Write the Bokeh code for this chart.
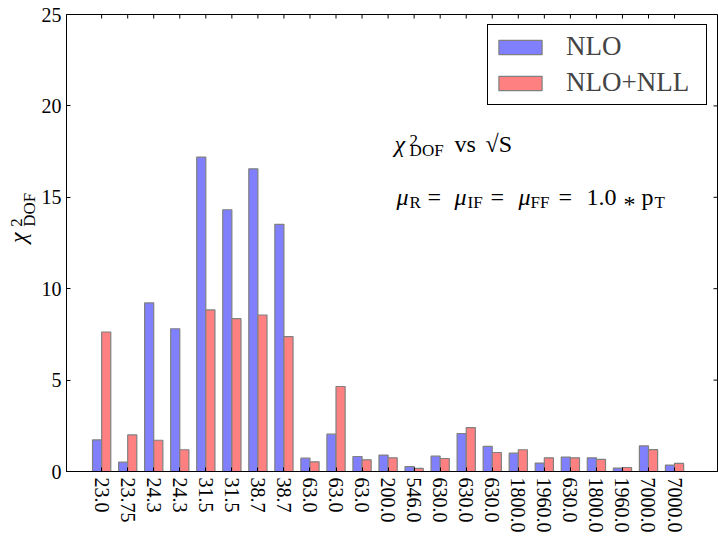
import math
import numpy as np
from bokeh.plotting import figure
from bokeh.layouts import row
from bokeh.models import Range1d, FixedTicker, Legend, LegendItem, Label, CustomJSTickFormatter
from bokeh.embed import file_html
from bokeh.resources import INLINE

# ---------------- data ----------------
energies = ["23.0", "23.75", "24.3", "24.3", "31.5", "31.5", "38.7", "38.7",
            "63.0", "63.0", "63.0", "200.0", "546.0", "630.0", "630.0", "630.0",
            "1800.0", "1960.0", "630.0", "1800.0", "1960.0", "7000.0", "7000.0"]
chi2_nlo = [1.73, 0.51, 9.22, 7.81, 17.20, 14.32, 16.56, 13.52, 0.73, 2.04, 0.82,
            0.90, 0.27, 0.84, 2.08, 1.37, 1.00, 0.46, 0.79, 0.75, 0.19, 1.40, 0.35]
chi2_nll = [7.63, 2.00, 1.71, 1.19, 8.84, 8.36, 8.56, 7.38, 0.53, 4.65, 0.64,
            0.75, 0.17, 0.71, 2.40, 1.04, 1.19, 0.75, 0.75, 0.66, 0.22, 1.20, 0.44]
y_ticks = [0, 5, 10, 15, 20, 25]
series_names = ["NLO", "NLO+NLL"]

FONT = "Liberation Serif"
BAR_W = 0.35
X_START, X_END = -1, 24
idx = np.arange(len(energies))
tick_pos = list(idx + BAR_W)

STRIP_W = 38
# ---------------- main plot ----------------
p = figure(width=718 - STRIP_W, height=536, x_range=Range1d(X_START, X_END),
           y_range=Range1d(y_ticks[0], y_ticks[-1]),
           output_backend="svg", toolbar_location=None,
           min_border_left=66 - STRIP_W, min_border_right=1, min_border_top=14,
           min_border_bottom=65)
p.xgrid.visible = False
p.ygrid.visible = False
p.outline_line_color = "black"
p.outline_line_width = 1
p.outline_line_alpha = 1
p.background_fill_color = "white"
p.border_fill_color = "white"

r1 = p.vbar(x=idx + BAR_W / 2, width=BAR_W, top=chi2_nlo, bottom=0,
            fill_color="#8080ff", line_color="#808080", line_width=1.2)
r2 = p.vbar(x=idx + 1.5 * BAR_W, width=BAR_W, top=chi2_nll, bottom=0,
            fill_color="#ff8080", line_color="#808080", line_width=1.2)

# inward ticks on the top and right edges
p.ray(x=tick_pos, y=[y_ticks[-1]] * len(tick_pos), length=4, length_units="screen",
      angle=-math.pi / 2, line_color="black", line_width=1)
p.ray(x=[X_END] * len(y_ticks), y=y_ticks, length=4, length_units="screen",
      angle=math.pi, line_color="black", line_width=1)

xa = p.xaxis[0]
xa.ticker = FixedTicker(ticks=tick_pos)
xa.formatter = CustomJSTickFormatter(args=dict(labels=energies, off=BAR_W),
                                     code="return labels[Math.round(tick - off)];")
xa.major_label_orientation = -math.pi / 2
xa.major_label_text_font = FONT
xa.major_label_text_font_size = "20px"
xa.major_label_text_color = "black"
xa.major_label_standoff = 6
xa.major_tick_in = 4
xa.major_tick_out = 0
xa.minor_tick_in = 0
xa.minor_tick_out = 0
xa.axis_line_color = "black"

ya = p.yaxis[0]
ya.ticker = FixedTicker(ticks=y_ticks)
ya.major_label_text_font = FONT
ya.major_label_text_font_size = "20px"
ya.major_label_text_color = "black"
ya.major_label_standoff = 5
ya.major_tick_in = 4
ya.major_tick_out = 0
ya.minor_tick_in = 0
ya.minor_tick_out = 0
ya.axis_line_color = "black"

legend = Legend(items=[LegendItem(label=series_names[0], renderers=[r1]),
                       LegendItem(label=series_names[1], renderers=[r2])],
                location="top_right", margin=10, padding=5, spacing=3,
                label_standoff=19, glyph_width=54, glyph_height=18,
                label_width=135, label_height=33,
                label_text_font=FONT, label_text_font_size="27px",
                border_line_color="black", border_line_width=1, border_line_alpha=1,
                background_fill_color="white", background_fill_alpha=1)
p.add_layout(legend)

def lab(fig, text, x, y, xo, yo, size, style="normal", angle=0.0):
    fig.add_layout(Label(x=x, y=y, x_offset=xo, y_offset=yo, text=text, angle=angle,
                         text_font=FONT, text_font_size=size, text_font_style=style,
                         text_color="black", text_baseline="alphabetic", text_align="left"))

# annotation text
X0, Y1, Y2 = 11.6, 17.9, 15.0
M, S = "24px", "17px"
lab(p, "χ", X0, Y1, 0, 0, M, "italic")
lab(p, "2", X0, Y1, 15, 4, S)
lab(p, "DOF", X0, Y1, 15, -6, S)
lab(p, "vs", X0, Y1, 60, 0, M)
lab(p, "√S", X0, Y1, 91, 0, M)

lab(p, "μ", X0, Y2, 2, 0, M, "italic")
lab(p, "R", X0, Y2, 15, -5, S)
lab(p, "=", X0, Y2, 33, 0, M)
lab(p, "μ", X0, Y2, 60, 0, M, "italic")
lab(p, "IF", X0, Y2, 73, -5, S)
lab(p, "=", X0, Y2, 96, 0, M)
lab(p, "μ", X0, Y2, 124, 0, M, "italic")
lab(p, "FF", X0, Y2, 136, -5, S)
lab(p, "=", X0, Y2, 164, 0, M)
lab(p, "1.0", X0, Y2, 192, 0, M)
lab(p, "*", X0, Y2, 229, -7, M)
lab(p, "p", X0, Y2, 247, 0, M)
lab(p, "T", X0, Y2, 260, -5, S)

# ---------------- y-axis title strip ----------------
H = 536
yl = figure(width=STRIP_W, height=H, x_range=Range1d(0, STRIP_W), y_range=Range1d(0, H),
            x_axis_type=None, y_axis_type=None,
            output_backend="svg", toolbar_location=None,
            min_border_left=0, min_border_right=0, min_border_top=0, min_border_bottom=0)
yl.xgrid.visible = False
yl.ygrid.visible = False
yl.outline_line_color = None
yl.background_fill_color = "white"
yl.border_fill_color = "white"
A = math.pi / 2
lab(yl, "χ", 17, H - 268, 0, 0, "24px", "italic", A)
lab(yl, "2", 16, H - 249, 0, 0, "17px", "normal", A)
lab(yl, "DOF", 29, H - 249, 0, 0, "17px", "normal", A)

layout = row(yl, p, spacing=0)
open("out.html", "w").write(file_html(layout, INLINE))
